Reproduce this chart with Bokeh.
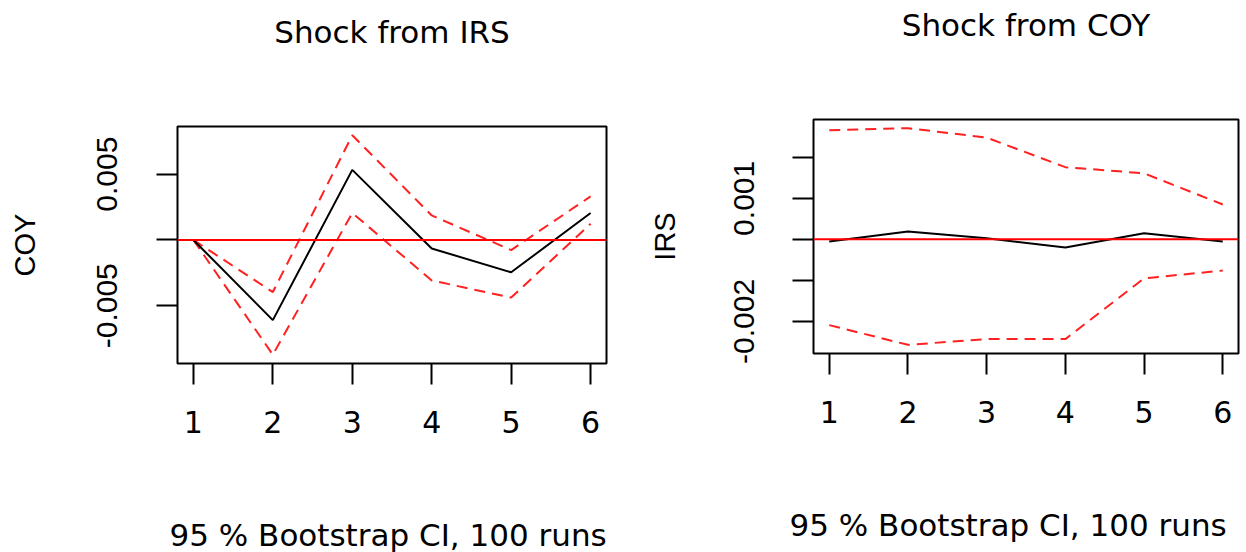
from bokeh.plotting import figure
from bokeh.models import Range1d, FixedTicker, Span, Title
from bokeh.layouts import row
from bokeh.embed import file_html
from bokeh.resources import INLINE

# ---------------- data ----------------
steps = [1, 2, 3, 4, 5, 6]

# Shock from IRS -> response of COY
coy_irf = [0.0, -0.00609, 0.00532, -0.00065, -0.00246, 0.00205]
coy_upper = [0.0, -0.00396, 0.00795, 0.00186, -0.00077, 0.00331]
coy_lower = [0.0, -0.00872, 0.00205, -0.00308, -0.00438, 0.00123]

# Shock from COY -> response of IRS
irs_irf = [-0.00005, 0.00019, 0.00003, -0.00020, 0.00015, -0.00005]
irs_upper = [0.00266, 0.00271, 0.00248, 0.00176, 0.00161, 0.00085]
irs_lower = [-0.00209, -0.00257, -0.00243, -0.00243, -0.00095, -0.00076]

coy_yticks = [-0.005, 0.0, 0.005]
coy_ytick_labels = ["-0.005", "", "0.005"]
irs_yticks = [-0.002, -0.001, 0.0, 0.001, 0.002]
irs_ytick_labels = ["-0.002", "", "", "0.001", ""]

titles = ["Shock from IRS", "Shock from COY"]
ylabels = ["COY", "IRS"]
subtitle = "95 % Bootstrap CI,  100 runs"

# ---------------- layout / style ----------------
W = 623
TXT_FONT = "DejaVu Sans"
AX_FONT = "Liberation Sans"


def make_panel(title, ylabel, irf, upper, lower, yticks, ytick_labels,
               frame, height, ylab_standoff, ytick_standoff, sub_offset):
    fl, ft, fw, fh = frame
    allv = irf + upper + lower
    lo, hi = min(allv), max(allv)
    pad = 0.04 * (hi - lo)
    xs = (max(steps) - min(steps)) * 0.04

    p = figure(width=W, height=height, output_backend="svg", toolbar_location=None,
               x_range=Range1d(min(steps) - xs, max(steps) + xs),
               y_range=Range1d(lo - pad, hi + pad),
               min_border_left=fl, min_border_top=ft,
               min_border_right=W - fl - fw, min_border_bottom=height - ft - fh)
    p.background_fill_color = "white"
    p.border_fill_color = "white"
    p.outline_line_color = "black"
    p.outline_line_width = 2
    p.outline_line_alpha = 1.0
    p.xgrid.visible = False
    p.ygrid.visible = False

    for ax in (p.xaxis[0], p.yaxis[0]):
        ax.axis_line_color = None
        ax.major_tick_in = 0
        ax.major_tick_out = 21
        ax.major_tick_line_width = 2
        ax.major_tick_line_color = "black"
        ax.minor_tick_line_color = None
        ax.major_label_text_font_size = "30px"
        ax.major_label_text_color = "black"

    xa = p.xaxis[0]
    xa.ticker = FixedTicker(ticks=steps)
    xa.major_label_text_font = TXT_FONT
    xa.major_label_standoff = 26

    ya = p.yaxis[0]
    ya.ticker = FixedTicker(ticks=yticks)
    ya.major_label_overrides = {t: l for t, l in zip(yticks, ytick_labels)}
    ya.major_label_orientation = "vertical"
    ya.major_label_text_font = AX_FONT
    ya.major_label_standoff = ytick_standoff
    ya.axis_label = ylabel
    ya.axis_label_text_font = AX_FONT
    ya.axis_label_text_font_size = "29px"
    ya.axis_label_text_font_style = "normal"
    ya.axis_label_text_color = "black"
    ya.axis_label_standoff = ylab_standoff

    # title: spacer next to the frame, then the title text above it
    p.add_layout(Title(text=" ", text_font_size="1px", standoff=74), "above")
    p.add_layout(Title(text=title, text_font=TXT_FONT, text_font_size="31px",
                       text_font_style="normal", text_color="black",
                       align="center", vertical_align="bottom", standoff=0), "above")
    # subtitle below the x axis
    p.add_layout(Title(text=" ", text_font_size="1px", standoff=76), "below")
    p.add_layout(Title(text=subtitle, text_font=TXT_FONT, text_font_size="31px",
                       text_font_style="normal", text_color="black",
                       align="left", offset=sub_offset,
                       vertical_align="bottom", standoff=0), "below")

    p.add_layout(Span(location=0, dimension="width", line_color="#ff0000", line_width=2))
    p.line(steps, upper, line_color="#ff2020", line_width=2, line_dash="11 7")
    p.line(steps, lower, line_color="#ff2020", line_width=2, line_dash="11 7")
    p.line(steps, irf, line_color="black", line_width=2)
    return p


p1 = make_panel(titles[0], ylabels[0], coy_irf, coy_upper, coy_lower,
                coy_yticks, coy_ytick_labels,
                frame=(177, 126, 429, 237), height=552,
                ylab_standoff=54, ytick_standoff=39, sub_offset=-8)
p2 = make_panel(titles[1], ylabels[1], irs_irf, irs_upper, irs_lower,
                irs_yticks, irs_ytick_labels,
                frame=(190, 126, 425, 234), height=549,
                ylab_standoff=51, ytick_standoff=38, sub_offset=-24)
p2.styles = {"position": "relative", "top": "-7px"}

layout = row(p1, p2)
open("out.html", "w").write(file_html(layout, INLINE))
